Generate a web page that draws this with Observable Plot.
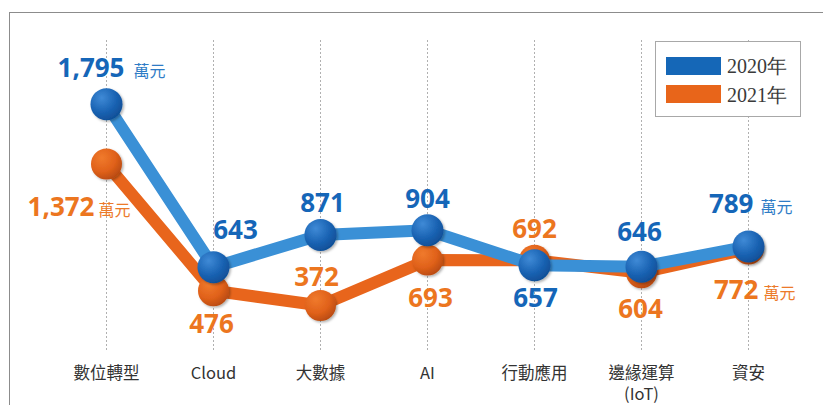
<!DOCTYPE html>
<html><head><meta charset="utf-8">
<script src="https://cdn.jsdelivr.net/npm/d3@7"></script>
<script src="https://cdn.jsdelivr.net/npm/@observablehq/plot@0.6"></script>
<style>
body{margin:0;background:#fff;}
#wrap{position:relative;width:823px;height:405px;overflow:hidden;font-family:"Noto Sans CJK TC","Noto Sans",sans-serif;}
#wrap svg{position:absolute;left:0;top:0;}
#frame{position:absolute;left:9px;top:12px;width:900px;height:500px;border-left:1.5px solid #8c8c8c;border-top:1.5px solid #8c8c8c;pointer-events:none;}
#legend{position:absolute;left:655px;top:41px;width:146px;height:76px;border:1.5px solid #a8a8a8;background:#fff;box-sizing:border-box;}
.sw{position:absolute;left:10px;width:55px;height:18px;}
.lt{position:absolute;left:71px;font-family:"Liberation Serif","DejaVu Serif",serif;font-size:20px;color:#3a3a3a;line-height:20px;}
</style></head>
<body>
<div id="wrap"></div>
<script>
// ---- data ----
const categories = ["數位轉型", "Cloud", "大數據", "AI", "行動應用", "邊緣運算\n(IoT)", "資安"];
const seriesNames = ["2020年", "2021年"];
const values2020 = [1795, 643, 871, 904, 657, 646, 789];
const values2021 = [1372, 476, 372, 693, 692, 604, 772];
const unitLabel = "萬元";

// ---- label placement (layout only) ----
const layout2020 = [
  {anchor: "end", dx: 18, dy: -27, udx: 27},
  {dx: 22, dy: -28},
  {dx: 2, dy: -23},
  {dx: 0, dy: -22},
  {dx: 1, dy: 42},
  {dx: -2, dy: -26},
  {anchor: "end", dx: 5, dy: -34, udx: 12}
];
const layout2021 = [
  {anchor: "end", dx: -12, dy: 52, udx: -8},
  {dx: -2, dy: 42},
  {dx: -4, dy: -20},
  {dx: 3, dy: 47},
  {dx: 0, dy: -22},
  {dx: -1, dy: 45},
  {anchor: "end", dx: 10, dy: 50, udx: 15}
];

const rows2020 = categories.map((c, i) => ({category: c, value: values2020[i], series: seriesNames[0]}));
const rows2021 = categories.map((c, i) => ({category: c, value: values2021[i], series: seriesNames[1]}));

const fmt = d3.format(",");
function labelMarks(rows, layout, color, unitColor) {
  const marks = [];
  rows.forEach((r, i) => {
    const L = layout[i];
    marks.push(Plot.text([r], {
      x: "category", y: "value", text: d => fmt(d.value),
      dx: L.dx, dy: L.dy, textAnchor: L.anchor || "middle", lineAnchor: "bottom",
      fill: color, fontSize: 26, fontWeight: 700, fontFamily: "'Open Sans', 'Noto Sans', sans-serif"
    }));
    if (L.udx !== undefined) {
      marks.push(Plot.text([r], {
        x: "category", y: "value", text: () => unitLabel,
        dx: L.udx, dy: L.dy, textAnchor: "start", lineAnchor: "bottom",
        fill: unitColor, fontSize: 16, fontFamily: "'Noto Sans CJK TC', sans-serif"
      }));
    }
  });
  return marks;
}

const plot = Plot.plot({
  width: 823, height: 405,
  marginLeft: 104, marginRight: 73, marginTop: 40, marginBottom: 53,
  x: {type: "point", domain: categories, padding: 0, axis: null},
  y: {domain: [40, 2245], axis: null},
  style: {background: "transparent", fontFamily: "'Noto Sans CJK TC', sans-serif", color: "#333"},
  marks: [
    Plot.ruleX(categories, {x: d => d, stroke: "#b0b0b0", strokeWidth: 1, strokeDasharray: "2,2"}),
    Plot.text(categories, {x: d => d, text: d => d, frameAnchor: "bottom", lineAnchor: "top", dy: 11,
      fontSize: 16.5, lineHeight: 1.28, fill: "#333"}),
    Plot.line(rows2021, {x: "category", y: "value", stroke: "#e8651c", strokeWidth: 12, strokeLinejoin: "round"}),
    Plot.dot(rows2021, {x: "category", y: "value", r: 15.5, fill: "url(#gOrange)", stroke: "none"}),
    Plot.line(rows2020, {x: "category", y: "value", stroke: "#3a90d6", strokeWidth: 12, strokeLinejoin: "round"}),
    Plot.dot(rows2020, {x: "category", y: "value", r: 16, fill: "url(#gBlue)", stroke: "none"}),
    ...labelMarks(rows2020, layout2020, "#1566b8", "#2f7cc6"),
    ...labelMarks(rows2021, layout2021, "#ec761f", "#ec7a2a")
  ]
});

// gradients and shadow
const svg = d3.select(plot);
const defs = svg.insert("defs", ":first-child");
const gb = defs.append("radialGradient").attr("id", "gBlue").attr("cx", "35%").attr("cy", "30%").attr("r", "75%");
gb.append("stop").attr("offset", "0%").attr("stop-color", "#3f8ad6");
gb.append("stop").attr("offset", "60%").attr("stop-color", "#1a63b3");
gb.append("stop").attr("offset", "100%").attr("stop-color", "#0f4e96");
const go = defs.append("radialGradient").attr("id", "gOrange").attr("cx", "35%").attr("cy", "30%").attr("r", "75%");
go.append("stop").attr("offset", "0%").attr("stop-color", "#f07a2c");
go.append("stop").attr("offset", "60%").attr("stop-color", "#e0611a");
go.append("stop").attr("offset", "100%").attr("stop-color", "#b84a10");
const f = defs.append("filter").attr("id", "sh").attr("x", "-30%").attr("y", "-30%").attr("width", "170%").attr("height", "170%");
f.append("feDropShadow").attr("dx", 1.5).attr("dy", 1.5).attr("stdDeviation", 1.2).attr("flood-color", "#000").attr("flood-opacity", 0.3);
svg.selectAll('g[aria-label="dot"]').attr("filter", "url(#sh)");

const wrap = document.getElementById("wrap");
wrap.appendChild(plot);
const frame = document.createElement("div"); frame.id = "frame"; wrap.appendChild(frame);
const legend = document.createElement("div"); legend.id = "legend";
const legendColors = ["#1567b7", "#e8651a"];
seriesNames.forEach((name, i) => {
  const sw = document.createElement("div"); sw.className = "sw";
  sw.style.top = (15 + i * 28) + "px"; sw.style.background = legendColors[i];
  const t = document.createElement("div"); t.className = "lt"; t.textContent = name;
  t.style.top = (14 + i * 29) + "px";
  legend.appendChild(sw); legend.appendChild(t);
});
wrap.appendChild(legend);
</script>
</body></html>
